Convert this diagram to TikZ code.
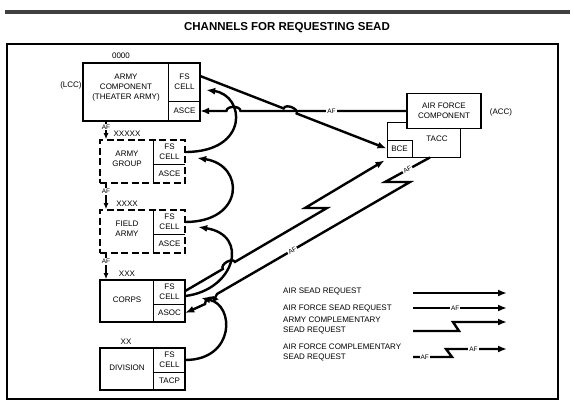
\documentclass[tikz,border=0pt]{standalone}
\usepackage{fontspec}
\setmainfont{Liberation Sans}
\usetikzlibrary{arrows.meta,calc,intersections}

\begin{document}
\begin{tikzpicture}
	[x=1pt,y=-1pt,
	every node/.style={inner sep=0pt,align=center,font=\fontsize{8}{10}\selectfont},
	unit/.style={draw,line width=1.6pt,minimum width=85pt,minimum height=43pt},
	dunit/.style={unit,dash pattern=on 7pt off 3.5pt},
	cell/.style={minimum width=31pt},
	req/.style={line width=2.4pt,-{Latex[length=9pt,width=7pt]}},
	afv/.style={line width=1.5pt,-{Latex[length=6pt,width=5pt]}},
	af/.style={fill=white,inner sep=1pt,font=\fontsize{6.5}{6.5}\selectfont}]

	\useasboundingbox (0,0) rectangle (574,415);
	\draw[line width=3.5pt,black!75] (5,12) -- (570,12);
	\node[font=\bfseries\fontsize{11.5}{12}\selectfont] (title) at (287,28) {CHANNELS FOR REQUESTING SEAD};
	\draw[line width=2pt] (7,44) rectangle (558,399);

	\node[unit,minimum width=117pt,minimum height=58pt] (comp) at (141.5,92) {};
	\node (comp-t) at (126,88) {ARMY\\COMPONENT\\(THEATER ARMY)};
	\node[cell,minimum height=38pt] (comp-fs) at (184.5,82) {FS\\CELL};
	\node[cell,minimum height=20pt] (comp-lo) at (184.5,111) {ASCE};

	\node[dunit] (ag) at (142.5,161.5) {};
	\node (ag-t) at (127,159) {ARMY\\GROUP};
	\node[cell,minimum height=24pt] (ag-fs) at (169.5,152) {FS\\CELL};
	\node[cell,minimum height=19pt] (ag-lo) at (169.5,173.5) {ASCE};

	\node[dunit] (fa) at (142.5,231.5) {};
	\node (fa-t) at (127,229) {FIELD\\ARMY};
	\node[cell,minimum height=24pt] (fa-fs) at (169.5,222) {FS\\CELL};
	\node[cell,minimum height=19pt] (fa-lo) at (169.5,243.5) {ASCE};

	\node[unit,minimum height=42pt] (corps) at (142.5,301) {};
	\node (corps-t) at (127,300) {CORPS};
	\node[cell,minimum height=24pt] (corps-fs) at (169.5,292) {FS\\CELL};
	\node[cell,minimum height=18pt] (corps-lo) at (169.5,313) {ASOC};

	\node[unit,minimum height=42pt] (div) at (142.5,369) {};
	\node (div-t) at (127,368) {DIVISION};
	\node[cell,minimum height=24pt] (div-fs) at (169.5,360) {FS\\CELL};
	\node[cell,minimum height=18pt] (div-lo) at (169.5,381) {TACP};

	\foreach \u in {comp,ag,fa,corps,div}
		\draw[line width=1.2pt] (\u-fs.north west) -- (\u-lo.south west)
			(\u-fs.south west) -- (\u-fs.south east);

	\node (comp-e) at (121,56) {0000};
	\node (ag-e) at (127,134) {XXXXX};
	\node (fa-e) at (127,204) {XXXX};
	\node (corps-e) at (127,274) {XXX};
	\node (div-e) at (126,342) {XX};
	\node (lcc) at (71,85) {(LCC)};

	\node[draw,line width=.9pt,minimum width=73pt,minimum height=35pt] (tacc) at (423.5,139.5) {};
	\node (tacc-t) at (437,139) {TACC};
	\node[draw,line width=.9pt,minimum width=25pt,minimum height=17pt] (bce) at (399.5,148.5) {BCE};
	\node[draw,line width=1.8pt,fill=white,minimum width=74pt,minimum height=35pt] (afc) at (444,111) {AIR FORCE\\COMPONENT};
	\node (acc) at (501,112) {(ACC)};

	\coordinate (vx) at (106,0);
	\foreach \a/\b in {comp/ag,ag/fa,fa/corps}
		\draw[afv] (\a.south -| vx) -- node[af,pos=.3]{AF} (\b.north -| vx);

	\draw[req,name path=c1] (ag-fs.east) .. controls (250,152) and (245,95) .. ($(comp-fs.east)+(6,8)$);
	\draw[req,name path=c2] (fa-fs.east) .. controls (245,222) and (245,165) .. ($(ag-fs.east)+(12,6)$);
	\draw[req,name path=c3] ($(corps-fs.east)+(0,4)$) .. controls (235,290) and (250,235) .. ($(fa-fs.east)+(13,5)$);
	\draw[req,name path=c4] (div-fs.east) .. controls (235,360) and (235,305) .. ($(corps-fs.east)+(16,6)$);

	\coordinate (l1s) at ($(comp-fs.east)+(0,-6)$);
	\path[name path=l1] (l1s) -- (bce.west);
	\path[name path=l2] (afc.west) -- (comp-lo.east);
	\path[name intersections={of=l1 and l2,by=h1}];
	\path[name intersections={of=c1 and l2,by=h2}];
	\draw[req] (l1s) -- ($(h1)!7pt!(l1s)$) to[bend left=90] ($(h1)!7pt!(bce.west)$) -- (bce.west);
	\draw[req] (afc.west) -- node[af,pos=.45]{AF} ($(h2)+(7,0)$) to[bend right=90] ($(h2)+(-7,0)$) -- (comp-lo.east);

	\coordinate (l3s) at ($(corps-fs.east)+(0,-1)$);
	\coordinate (z3) at (327,208);
	\path[name path=l3] (l3s) -- (z3);
	\path[name intersections={of=c3 and l3,by=h3}];
	\draw[req] (l3s) -- ($(h3)!7pt!(l3s)$) to[bend left=90] ($(h3)!7pt!(z3)$) -- (z3) -- ++(-22,0) -- ($(bce.south west)+(-2,3)$);

	\coordinate (l4s) at ($(tacc.south)+(6.5,0)$);
	\coordinate (z4) at (385,182);
	\coordinate (k4) at (217,294);
	\coordinate (k4b) at (214,300);
	\path[name path=l4] (k4b) -- (corps-lo.east);
	\path[name intersections={of=c4 and l4,by=h4}];
	\draw[req] (l4s) -- node[af,sloped]{AF} (z4) -- ++(25,0) -- node[af,sloped,pos=.61]{AF} (k4) -- (k4b)
		-- ($(h4)!6pt!(k4b)$) to[bend right=90] ($(h4)!6pt!(corps-lo.east)$) -- (corps-lo.east);

	\node[anchor=west] (lg1) at (283,291) {AIR SEAD REQUEST};
	\node[anchor=west] (lg2) at (283,308) {AIR FORCE SEAD REQUEST};
	\node[anchor=west,align=left] (lg3) at (283,325) {ARMY COMPLEMENTARY\\SEAD REQUEST};
	\node[anchor=west,align=left] (lg4) at (283,352) {AIR FORCE COMPLEMENTARY\\SEAD REQUEST};

	\coordinate (a1) at (413,293); \coordinate (b1) at (507,293);
	\coordinate (a2) at (413,308); \coordinate (b2) at (507,308);
	\coordinate (a3) at (413,331); \coordinate (b3) at (507,322);
	\coordinate (a4) at (413,357); \coordinate (b4) at (507,349);
	\draw[req] (a1) -- (b1);
	\draw[req] (a2) -- node[af,pos=.45]{AF} (b2);
	\draw[req] (a3) -- (459,331) -- (453,322) -- (b3);
	\draw[req] (a4) -- node[af,pos=.3]{AF} (452,357) -- (446,349) -- node[af,pos=.45]{AF} (b4);
\end{tikzpicture}
\end{document}
